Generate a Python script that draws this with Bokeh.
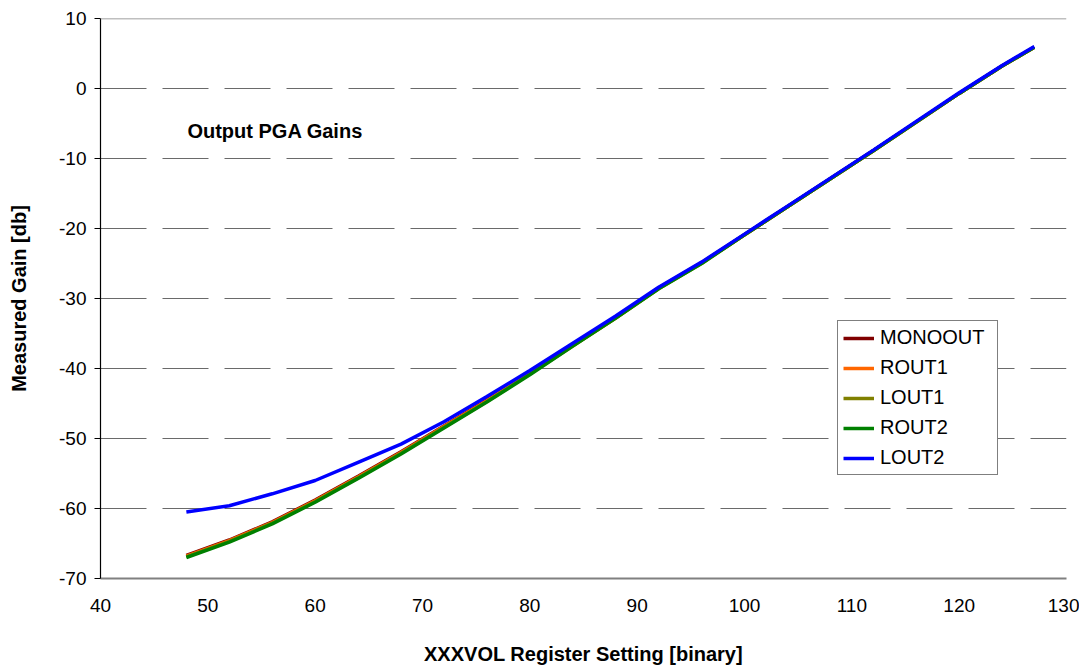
from bokeh.plotting import figure
from bokeh.models import Legend, LegendItem, Span, Label, FixedTicker, CustomJSTickFormatter
from bokeh.embed import file_html
from bokeh.resources import INLINE

# register settings
x_vals = [48, 52, 56, 60, 64, 68, 72, 76, 80, 84, 88, 92, 96, 100, 104, 108, 112, 116, 120, 124, 127]

monoout = [-66.7, -64.5, -61.9, -58.8, -55.4, -51.9, -48.2, -44.5, -40.6, -36.6, -32.7, -28.5, -24.9, -20.9, -16.9, -12.9, -8.9, -4.8, -0.7, 3.2, 5.9]
rout1 = [-66.8, -64.6, -62.0, -58.9, -55.5, -52.0, -48.3, -44.6, -40.7, -36.7, -32.8, -28.5, -24.9, -20.9, -16.9, -12.9, -8.9, -4.8, -0.7, 3.2, 5.9]
lout1 = [-66.9, -64.7, -62.1, -59.0, -55.6, -52.1, -48.4, -44.7, -40.8, -36.8, -32.8, -28.6, -25.0, -20.9, -16.9, -12.9, -8.9, -4.8, -0.7, 3.2, 5.9]
rout2 = [-67.0, -64.8, -62.2, -59.1, -55.7, -52.2, -48.5, -44.8, -40.9, -36.8, -32.8, -28.6, -25.0, -20.9, -16.9, -12.9, -8.9, -4.8, -0.7, 3.2, 5.9]
lout2 = [-60.5, -59.6, -57.9, -56.0, -53.4, -50.8, -47.6, -44.0, -40.3, -36.4, -32.5, -28.4, -24.8, -20.8, -16.8, -12.8, -8.8, -4.7, -0.6, 3.3, 6.0]

series_names = ["MONOOUT", "ROUT1", "LOUT1", "ROUT2", "LOUT2"]
series_vals = [monoout, rout1, lout1, rout2, lout2]
series_colors = ["#800000", "#FF6600", "#808000", "#008000", "#0000FF"]

x_ticks = [40, 50, 60, 70, 80, 90, 100, 110, 120, 130]
y_ticks = [-70, -60, -50, -40, -30, -20, -10, 0, 10]

FONT = "Liberation Sans"

p = figure(frame_width=966, frame_height=560, output_backend="svg", toolbar_location=None,
           x_range=(40, 130), y_range=(-70, 10),
           min_border_left=100, min_border_right=13, min_border_top=18, min_border_bottom=83)
p.outline_line_color = None
p.background_fill_color = "white"
p.border_fill_color = "white"

# grid
p.xgrid.grid_line_color = None
p.ygrid.ticker = FixedTicker(ticks=y_ticks)
p.ygrid.grid_line_color = "#6a6a6a"
p.ygrid.grid_line_width = 1.2
p.ygrid.grid_line_dash = "46 16"

top_line = Span(location=10, dimension="width", line_color="#808080", line_width=1.5)
p.add_layout(top_line)

# axes
p.xaxis.ticker = FixedTicker(ticks=x_ticks)
p.yaxis.ticker = FixedTicker(ticks=y_ticks)
p.xaxis.formatter = CustomJSTickFormatter(code="return tick.toFixed(0);")
p.yaxis.formatter = CustomJSTickFormatter(code="return tick.toFixed(0);")
p.xaxis.axis_label = "XXXVOL Register Setting [binary]"
p.yaxis.axis_label = "Measured Gain [db]"
for ax in (p.xaxis[0], p.yaxis[0]):
    ax.major_label_text_font = FONT
    ax.major_label_text_font_size = "19px"
    ax.major_label_text_color = "black"
    ax.axis_label_text_font = FONT
    ax.axis_label_text_font_size = "20px"
    ax.axis_label_text_font_style = "bold"
    ax.axis_label_text_color = "black"
    ax.minor_tick_line_color = None

p.xaxis.axis_line_color = "#808080"
p.xaxis.axis_line_width = 2
p.xaxis.major_tick_line_color = None
p.xaxis.major_tick_out = 0
p.xaxis.major_tick_in = 0
p.xaxis.major_label_standoff = 20
p.xaxis.axis_label_standoff = 28

p.yaxis.axis_line_color = "black"
p.yaxis.axis_line_width = 1.2
p.yaxis.major_tick_line_color = "black"
p.yaxis.major_tick_out = 6
p.yaxis.major_tick_in = 0
p.yaxis.major_label_standoff = 8
p.yaxis.axis_label_standoff = 26

renderers = []
for name, vals, col in zip(series_names, series_vals, series_colors):
    r = p.line(x_vals, vals, line_color=col, line_width=3.5)
    renderers.append((name, r))

legend = Legend(items=[LegendItem(label=n, renderers=[r]) for n, r in renderers],
                location=(737, 103))
legend.border_line_color = "black"
legend.border_line_width = 1.2
legend.background_fill_color = "white"
legend.background_fill_alpha = 1.0
legend.label_text_font = FONT
legend.label_text_font_size = "20px"
legend.label_text_color = "black"
legend.glyph_width = 31
legend.glyph_height = 18
legend.label_height = 18
legend.label_width = 112
legend.spacing = 7
legend.padding = 5
legend.margin = 0
legend.label_standoff = 6
p.add_layout(legend, "center")

title_lbl = Label(x=48.1, y=-6.0, text="Output PGA Gains", text_font=FONT,
                  text_font_size="20px", text_font_style="bold", text_baseline="middle",
                  text_color="black")
p.add_layout(title_lbl)

open("out.html", "w").write(file_html(p, INLINE))
